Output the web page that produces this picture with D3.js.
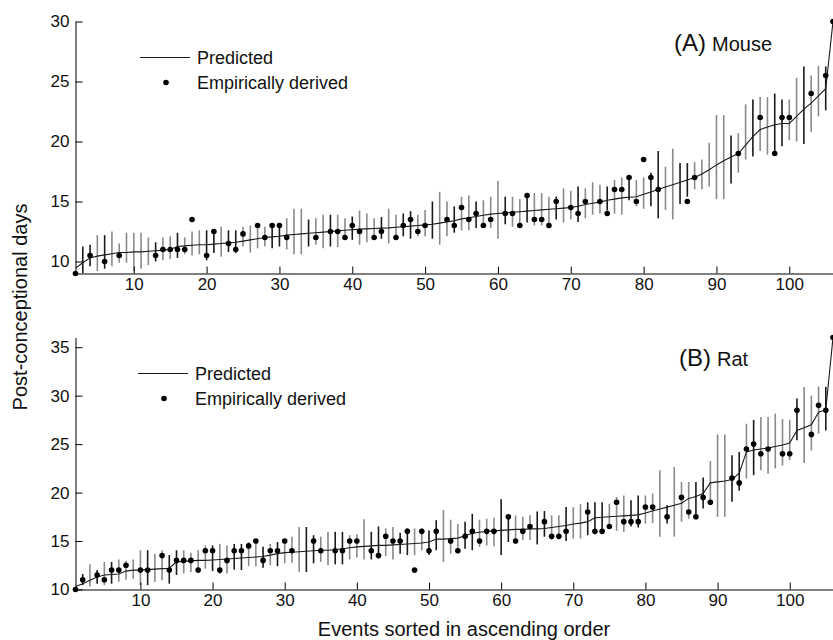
<!DOCTYPE html>
<html>
<head>
<meta charset="utf-8">
<script src="https://cdn.jsdelivr.net/npm/d3@7"></script>
<style>
  body { margin: 0; background: #fff; }
  svg { display: block; font-family: "Liberation Sans", Arial, Helvetica, sans-serif; }
  .axis path, .axis line { stroke: #000; stroke-width: 1; }
  .axis text { font-size: 17px; fill: #111; }
</style>
</head>
<body>
<svg id="vis" width="833" height="640"></svg>
<script>
// ---- mouse (A), events 2..106 ----
var mouseEvents = d3.range(2, 107);
var mousePred = [9.45, 9.9, 10.3, 10.45, 10.55, 10.65, 10.75, 10.75, 10.8, 10.8,
  10.85, 10.9, 10.95, 11.0, 11.25, 11.3, 11.35, 11.4, 11.4, 11.45,
  11.5, 11.55, 11.6, 11.7, 11.8, 11.9, 12.0, 12.05, 12.1, 12.2,
  12.25, 12.3, 12.35, 12.4, 12.45, 12.5, 12.55, 12.6, 12.65, 12.7,
  12.72, 12.75, 12.78, 12.8, 12.85, 12.9, 12.95, 13.0, 13.05, 13.1,
  13.2, 13.3, 13.4, 13.55, 13.65, 13.75, 13.85, 13.95, 14.0, 14.05,
  14.1, 14.15, 14.2, 14.25, 14.3, 14.35, 14.4, 14.45, 14.5, 14.6,
  14.75, 14.85, 14.95, 15.1, 15.2, 15.3, 15.35, 15.4, 15.6, 15.8,
  16.0, 16.2, 16.4, 16.6, 16.8, 17.0, 17.3, 17.65, 18.05, 18.4,
  18.7, 19.0, 19.7, 20.4, 21.0, 21.2, 21.4, 21.5, 21.5, 22.1,
  22.7, 23.2, 23.8, 24.4, 30.0];
var mouseObs = [9.0, null, 10.5, null, 10.0, null, 10.5, null, null, null,
  null, 10.5, 11, 11, 11, 11, 13.5, null, 10.5, 12.5,
  null, 11.5, 11, 12.3, null, 13, 12, 13, 13, 12,
  null, null, null, 12, null, 12.5, 12.5, 12, 13, 12.5,
  null, 12, 12.5, null, 12, 13, 13.5, 12.5, 13, null,
  null, 13.5, 13, 14.5, 13.5, 14, 13, 13.5, null, 14,
  14, 13, 15.5, 13.5, 13.5, 13, 15, null, 14.5, 14,
  15, null, 15, 14, 16, 16, 17, 15, 18.5, 17,
  16, null, null, null, 15, 17, null, null, null, null,
  null, 19, null, null, 22, null, 19, 22, 22, null,
  null, 24, null, 25.5, 30];
var mouseLo = [null, 9.03, 9.6, 9.2, 9.4, 9.6, 9.9, 9.9, 9.2, 9.4,
  9.7, 10.0, 10.1, 10.2, 10.3, 10.6, 10.5, 10.6, 10.1, 10.7,
  10.4, 10.8, 10.7, 11.25, 10.75, 11.1, 11.25, 11.1, 11.25, 11.0,
  10.6, 10.6, 11.25, 11.4, 11.1, 11.25, 11.2, 11.8, 11.8, 11.4,
  11.6, 11.8, 11.9, 11.5, 11.9, 12.1, 11.9, 12.1, 12.1, 11.9,
  11.4, 12.1, 12.4, 12.6, 12.6, 12.8, 12.8, 12.8, 11.9, 13.1,
  12.9, 13.1, 13.25, 13.0, 13.0, 13.1, 13.5, 13.25, 13.5, 13.3,
  13.6, 13.9, 14.0, 14.25, 14.0, 13.9, 15.1, 14.6, 14.4, 14.6,
  13.6, 14.3, 13.5, 14.8, 15.4, 16.0, 16.0, 16.25, 15.2, 15.2,
  16.5, 17.4, 18.5, 18.75, 19.2, 18.9, 19.0, 19.6, 20.1, 20.0,
  19.8, 20.8, 22.1, 22.6, null];
var mouseHi = [null, 11.25, 11.4, 12.2, 12.2, 12.5, 11.5, 12.4, 12.4, 12.4,
  12.0, 11.6, 12.0, 12.1, 12.4, 12.0, 12.5, 12.6, 12.6, 12.6,
  12.9, 12.6, 12.6, 12.9, 13.0, 13.1, 12.9, 12.9, 12.9, 13.6,
  14.4, 14.4, 13.5, 13.6, 13.9, 13.9, 13.9, 13.6, 13.75, 14.25,
  14.0, 13.6, 13.7, 14.4, 13.9, 14.0, 14.2, 13.9, 14.3, 15.0,
  15.8, 15.0, 14.6, 15.4, 15.5, 15.0, 15.1, 15.4, 16.7, 15.4,
  15.4, 15.2, 15.7, 15.7, 15.7, 15.4, 15.4, 16.1, 15.9, 16.25,
  16.1, 16.6, 16.4, 16.25, 16.8, 17.0, 17.0, 16.8, 17.0, 17.4,
  19.2, 17.9, 19.4, 18.2, 18.2, 18.3, 18.5, 19.9, 22.2, 22.2,
  20.5, 20.7, 23.1, 23.5, 23.7, 23.7, 24.0, 23.5, 23.5, 25.3,
  26.25, 25.5, 26.3, 26.25, null];
var mouseDark = [3, 4, 6, 13, 16, 20, 21, 23, 24, 29, 30, 34, 37, 40, 44, 47, 48, 51,
  54, 57, 61, 64, 68, 71, 75, 78, 81, 82, 85, 86, 92, 95, 98, 99, 102, 105];
var mouseTicksY = [10, 15, 20, 25, 30];

// ---- rat (B), events 1..106 ----
var ratEvents = d3.range(1, 107);
var ratPred = [10.3, 10.6, 10.95, 11.3, 11.5, 11.55, 11.6, 11.9, 12.0, 12.0,
  12.05, 12.1, 12.15, 12.2, 12.85, 12.9, 12.95, 13.0, 13.0, 13.05,
  13.1, 13.15, 13.2, 13.25, 13.3, 13.35, 13.4, 13.55, 13.7, 13.8,
  13.85, 13.9, 13.95, 14.0, 14.05, 14.05, 14.1, 14.2, 14.3, 14.4,
  14.45, 14.5, 14.55, 14.55, 14.6, 14.65, 14.7, 14.75, 14.8, 14.9,
  15.2, 15.2, 15.25, 15.3, 15.55, 15.8, 15.9, 16.0, 16.05, 16.1,
  16.15, 16.2, 16.2, 16.25, 16.25, 16.3, 16.4, 16.5, 16.6, 16.75,
  16.85, 17.0, 17.4, 17.45, 17.5, 17.55, 17.6, 17.65, 17.7, 17.9,
  18.1, 18.3, 18.5, 18.7, 18.9, 19.4, 19.6, 19.9, 21.0, 21.1,
  21.2, 21.35, 22.0, 24.2, 24.4, 24.5, 24.6, 24.75, 24.9, 25.1,
  26.4, 26.7, 27.0, 28.3, 28.55, 36.0];
var ratObs = [10, 11, null, 11.5, 11, 12, 12, 12.5, null, 12,
  12, null, 13.5, 12, 13, 13, 13, 12, 14, 14,
  12, 13, 14, 14, 14.5, 15, 13, 14, 14, 15,
  14, null, null, 15, 14, null, 14, 14, 15, 15,
  null, 14, 13.5, 15.5, 15, 15, 16, 12, 16, 14,
  16, null, 15, 14, 15.5, 16, 15, 16, 16, null,
  17.5, 15, 16, 16.5, null, 17, 15.5, 15.5, 16, null,
  null, 18, 16, 16, 16.5, 19, 17, 17, 17, 18.5,
  18.5, null, 17.5, null, 19.5, 18, 17.5, 19.5, 19, null,
  null, 21.5, 21, 24.5, 25, 24, 24.5, null, 24, 24,
  28.5, null, 26, 29, 28.5, 36];
var ratLo = [null, 10.45, 10.3, 10.6, 10.45, 10.6, 10.8, 11.0, 11.1, 10.45,
  10.45, 10.8, 10.95, 10.6, 11.5, 11.65, 11.8, 12.0, 12.15, 11.9,
  11.6, 11.65, 12.05, 12.0, 12.4, 12.4, 12.25, 12.5, 12.4, 12.7,
  12.75, 11.8, 11.8, 12.7, 12.85, 12.5, 12.6, 12.6, 13.1, 13.3,
  13.1, 13.1, 13.55, 13.45, 13.1, 13.7, 13.55, 13.55, 14.05, 13.55,
  14.05, 12.85, 13.7, 13.7, 14.2, 14.05, 14.4, 14.55, 14.45, 13.55,
  14.9, 14.75, 15.1, 15.1, 14.65, 15.45, 15.1, 15.15, 15.0, 15.25,
  15.25, 15.6, 15.95, 16.1, 16.45, 16.05, 15.95, 16.5, 16.4, 16.8,
  16.85, 15.45, 16.8, 15.45, 17.0, 17.3, 17.75, 18.35, 19.05, 17.5,
  17.5, 19.05, 20.2, 21.45, 21.8, 22.3, 21.95, 22.5, 22.8, 23.35,
  25.4, 23.05, 24.35, 26.1, 26.4, null];
var ratHi = [null, 11.6, 12.6, 12.0, 12.85, 12.85, 13.1, 12.95, 13.1, 14.05,
  14.05, 13.7, 14.05, 13.55, 14.05, 14.05, 13.8, 14.05, 14.55, 14.55,
  14.7, 14.55, 14.7, 14.7, 14.9, 15.1, 14.4, 14.7, 14.9, 15.1,
  15.45, 16.45, 16.45, 15.6, 15.45, 15.95, 15.95, 15.95, 15.6, 15.7,
  17.25, 15.95, 16.5, 16.3, 16.45, 15.85, 16.3, 16.3, 16.3, 16.1,
  17.15, 18.2, 17.2, 16.75, 17.0, 17.8, 17.2, 17.3, 17.4, 19.3,
  17.7, 17.65, 17.5, 17.65, 18.05, 18.1, 17.65, 17.65, 18.5, 18.5,
  18.8, 19.0, 19.0, 19.0, 18.85, 19.55, 19.7, 19.2, 19.7, 19.7,
  19.9, 22.3, 18.7, 22.65, 21.1, 21.1, 21.1, 21.55, 23.25, 26.0,
  26.0, 23.85, 24.2, 27.1, 27.5, 27.8, 27.8, 28.15, 27.6, 27.5,
  29.7, 30.9, 30.0, 30.95, 30.9, null];
var ratDark = [2, 4, 6, 11, 14, 15, 20, 23, 24, 27, 29, 33, 34, 37, 38, 42, 43, 46, 47,
  50, 51, 55, 56, 60, 61, 65, 66, 69, 72, 73, 74, 78, 79, 83, 87, 88, 92, 93, 95, 101, 105];
var ratTicksY = [10, 15, 20, 25, 30, 35];

var ticksX = [10, 20, 30, 40, 50, 60, 70, 80, 90, 100];
var legendLabels = ["Predicted", "Empirically derived"];

var svg = d3.select("#vis");

function drawPanel(p) {
    var x = d3.scaleLinear().domain([p.events[0], 106]).range([75.5, 833]);
    var y = d3.scaleLinear().domain(p.yDomain).range([p.bottom, p.top]);
    var g = svg.append("g");

    var rows = p.events.map(function(e, i) {
        return {ev: e, pred: p.pred[i], obs: p.obs[i], lo: p.lo[i], hi: p.hi[i],
                dark: p.dark.indexOf(e) >= 0};
    });

    // error bars
    g.append("g").selectAll("line")
        .data(rows.filter(function(d) { return d.lo != null; }))
        .enter().append("line")
        .attr("x1", function(d) { return x(d.ev); })
        .attr("x2", function(d) { return x(d.ev); })
        .attr("y1", function(d) { return y(d.lo); })
        .attr("y2", function(d) { return y(d.hi); })
        .attr("stroke", function(d) { return d.dark ? "#1a1a1a" : "#8a8a8a"; })
        .attr("stroke-width", 1.6);

    // predicted line
    g.append("path")
        .datum(rows)
        .attr("fill", "none")
        .attr("stroke", "#1a1a1a")
        .attr("stroke-width", 1.1)
        .attr("d", d3.line()
            .x(function(d) { return x(d.ev); })
            .y(function(d) { return y(d.pred); }));

    // empirical points
    g.append("g").selectAll("circle")
        .data(rows.filter(function(d) { return d.obs != null; }))
        .enter().append("circle")
        .attr("cx", function(d) { return x(d.ev); })
        .attr("cy", function(d) { return y(d.obs); })
        .attr("r", 2.8)
        .attr("fill", "#000");

    g.append("g")
        .attr("class", "axis")
        .attr("transform", "translate(0," + p.bottom + ")")
        .call(d3.axisBottom(x).tickValues(ticksX).tickSizeInner(-7).tickSizeOuter(0).tickPadding(3))
        .call(function(a) { a.selectAll("text").attr("dy", "0.78em"); });

    g.append("g")
        .attr("class", "axis")
        .attr("transform", "translate(75.5,0)")
        .call(d3.axisLeft(y).tickValues(p.ticksY).tickSizeInner(-7).tickSizeOuter(0).tickPadding(6));

    // legend
    g.append("line")
        .attr("x1", p.legX - 57).attr("x2", p.legX - 7)
        .attr("y1", p.legY - 6.5).attr("y2", p.legY - 6.5)
        .attr("stroke", "#1a1a1a").attr("stroke-width", 1.1);
    g.append("circle")
        .attr("cx", p.legX - 31).attr("cy", p.legY + 18.5).attr("r", 2.8).attr("fill", "#000");
    g.selectAll(".leg").data(legendLabels).enter().append("text")
        .attr("x", p.legX)
        .attr("y", function(d, i) { return p.legY + i * 25; })
        .attr("font-size", 18)
        .attr("fill", "#111")
        .text(function(d) { return d; });

    var t = g.append("text").attr("x", p.tagX).attr("y", p.tagY).attr("fill", "#111");
    t.append("tspan").attr("font-size", 24).text(p.tag);
    t.append("tspan").attr("font-size", 20).attr("dx", 6).text(p.name);
}

drawPanel({events: mouseEvents, pred: mousePred, obs: mouseObs, lo: mouseLo, hi: mouseHi,
    dark: mouseDark, yDomain: [9, 30], ticksY: mouseTicksY, top: 21.5, bottom: 273.5,
    legX: 197, legY: 64, tag: "(A)", name: "Mouse", tagX: 674, tagY: 51});

drawPanel({events: ratEvents, pred: ratPred, obs: ratObs, lo: ratLo, hi: ratHi,
    dark: ratDark, yDomain: [10, 36], ticksY: ratTicksY, top: 337.5, bottom: 589.5,
    legX: 195, legY: 380, tag: "(B)", name: "Rat", tagX: 679, tagY: 366});

svg.append("text")
    .attr("x", 464).attr("y", 636)
    .attr("text-anchor", "middle")
    .attr("font-size", 20)
    .attr("fill", "#111")
    .text("Events sorted in ascending order");

svg.append("text")
    .attr("transform", "translate(27,307) rotate(-90)")
    .attr("text-anchor", "middle")
    .attr("font-size", 20)
    .attr("fill", "#111")
    .text("Post-conceptional days");
</script>
</body>
</html>
